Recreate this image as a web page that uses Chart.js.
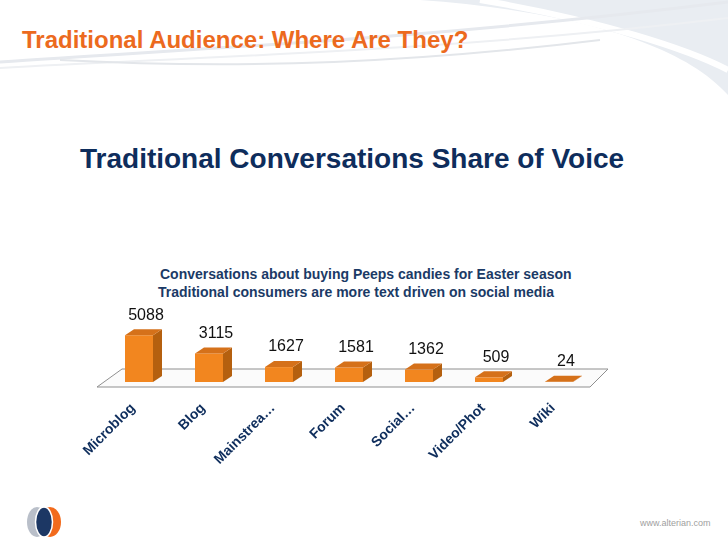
<html>
  <head>
    <script src="https://cdn.jsdelivr.net/npm/chart.js@4.4.0/dist/chart.umd.min.js"></script>
    <style>
      html,
      body {
        margin: 0;
        padding: 0;
        width: 728px;
        height: 546px;
        overflow: hidden;
        background: #fff;
        font-family: Arial, "Liberation Sans", Helvetica, sans-serif;
      }
      .page {
        position: relative;
        width: 728px;
        height: 546px;
      }
      #swoosh {
        position: absolute;
        left: 0;
        top: 0;
      }
      .slideTitle {
        position: absolute;
        left: 22px;
        top: 27px;
        font-size: 24px;
        line-height: 26px;
        font-weight: bold;
        color: #ec6a1e;
        white-space: nowrap;
      }
      h1 {
        position: absolute;
        left: 80px;
        top: 143px;
        margin: 0;
        font-size: 28px;
        line-height: 32px;
        color: #0e2d5c;
        white-space: nowrap;
      }
      .sub {
        position: absolute;
        font-size: 14px;
        line-height: 16px;
        font-weight: bold;
        color: #1b3a66;
        white-space: nowrap;
      }
      .chartBox {
        position: absolute;
        left: 0;
        top: 300px;
        width: 728px;
        height: 180px;
      }
      #logo {
        position: absolute;
        left: 0;
        top: 500px;
      }
      .url {
        position: absolute;
        left: 640px;
        top: 518px;
        font-size: 9px;
        color: #a0a0a0;
      }
    </style>
  </head>
  <body>
    <div class="page">
      <svg id="swoosh" width="728" height="130">
        <path d="M420,0 C560,10 680,40 728,95 L728,0 Z" fill="#e9edf2" />
        <path d="M480,0 C600,20 690,50 728,70" stroke="#fff" stroke-width="6" fill="none" />
        <path d="M0,62 C200,48 420,40 728,2" stroke="#e6e9ee" stroke-width="3" fill="none" />
        <path d="M0,68 C220,56 460,50 728,18" stroke="#eef0f3" stroke-width="2" fill="none" />
        <path d="M60,60 C250,70 420,62 600,40" stroke="#e3e6ea" stroke-width="2" fill="none" />
      </svg>
      <div class="slideTitle">Traditional Audience: Where Are They?</div>
      <h1>Traditional Conversations Share of Voice</h1>
      <div class="sub" style="left: 160px; top: 266px">
        Conversations about buying Peeps candies for Easter season
      </div>
      <div class="sub" style="left: 158px; top: 284px">
        Traditional consumers are more text driven on social media
      </div>
      <div class="chartBox">
        <canvas id="voiceChart" width="728" height="180"></canvas>
      </div>
      <svg id="logo" width="80" height="46">
        <ellipse cx="37" cy="22" rx="10" ry="15" fill="#b9bfc9" />
        <ellipse cx="50" cy="22" rx="11" ry="15" fill="#f26b1d" />
        <ellipse cx="44" cy="22" rx="8.5" ry="15" fill="#1c3764" stroke="#fff" stroke-width="1.5" />
      </svg>
      <div class="url">www.alterian.com</div>
    </div>

    <script>
      const categories = [
        "Microblog",
        "Blog",
        "Mainstrea\u2026",
        "Forum",
        "Social\u2026",
        "Video/Phot",
        "Wiki",
      ];
      const conversations = [5088, 3115, 1627, 1581, 1362, 509, 24];

      const frontColor = "#f2861f";
      const sideColor = "#b5600f";
      const topColor = "#d5711a";
      const depthX = 9;
      const depthY = -6;

      // fake 3D: floor under the bars, then side + top faces and value labels
      const bars3d = {
        id: "bars3d",
        beforeDatasetsDraw(chart) {
          const a = chart.chartArea;
          const c = chart.ctx;
          c.save();
          c.beginPath();
          c.moveTo(a.left - 7, a.bottom + 5);
          c.lineTo(a.right - 4, a.bottom + 5);
          c.lineTo(a.right + 14, a.bottom - 13);
          c.lineTo(a.left + 18, a.bottom - 13);
          c.closePath();
          c.fillStyle = "#fbfbfb";
          c.fill();
          c.strokeStyle = "#8f8f8f";
          c.lineWidth = 1;
          c.stroke();
          c.restore();
        },
        afterDatasetsDraw(chart) {
          const c = chart.ctx;
          const meta = chart.getDatasetMeta(0);
          c.save();
          meta.data.forEach(function (bar, i) {
            const l = bar.x - bar.width / 2;
            const r = bar.x + bar.width / 2;
            const t = bar.y;
            const b = bar.base;
            // side
            c.beginPath();
            c.moveTo(r, b);
            c.lineTo(r + depthX, b + depthY);
            c.lineTo(r + depthX, t + depthY);
            c.lineTo(r, t);
            c.closePath();
            c.fillStyle = sideColor;
            c.fill();
            // top
            c.beginPath();
            c.moveTo(l, t);
            c.lineTo(r, t);
            c.lineTo(r + depthX, t + depthY);
            c.lineTo(l + depthX, t + depthY);
            c.closePath();
            c.fillStyle = topColor;
            c.fill();
            // value
            c.fillStyle = "#111";
            c.font = "16px Arial, 'Liberation Sans', sans-serif";
            c.textAlign = "center";
            c.textBaseline = "bottom";
            c.fillText(String(conversations[i]), bar.x + 7, t - 12);
          });
          c.restore();
        },
      };

      const ctx = document.getElementById("voiceChart").getContext("2d");
      Chart.defaults.font.family = "Arial, 'Liberation Sans', sans-serif";

      var voiceChart = new Chart(ctx, {
        type: "bar",
        data: {
          labels: categories,
          datasets: [
            {
              label: "Conversations",
              data: conversations,
              backgroundColor: frontColor,
              borderWidth: 0,
              categoryPercentage: 1,
              barPercentage: 0.4,
            },
          ],
        },
        plugins: [bars3d],
        options: {
          responsive: false,
          animation: false,
          layout: {
            padding: { left: 104, right: 134, top: 27, bottom: 0 },
          },
          plugins: {
            legend: { display: false },
            tooltip: { enabled: false },
          },
          scales: {
            x: {
              grid: { display: false },
              border: { display: false },
              ticks: {
                autoSkip: false,
                minRotation: 45,
                maxRotation: 45,
                padding: 10,
                labelOffset: -6,
                color: "#0e2d5c",
                font: { size: 14, weight: "bold" },
              },
              afterFit: function (scale) {
                scale.height = 98;
              },
            },
            y: {
              display: false,
              min: 0,
              max: 6000,
            },
          },
        },
      });
    </script>
  </body>
</html>
